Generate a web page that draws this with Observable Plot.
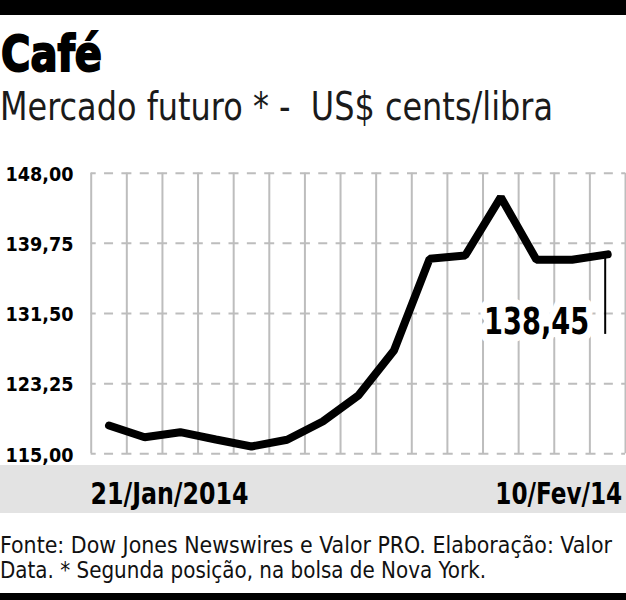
<!DOCTYPE html>
<html><head><meta charset="utf-8">
<script src="https://cdn.jsdelivr.net/npm/d3@7"></script>
<script src="https://cdn.jsdelivr.net/npm/@observablehq/plot@0.6"></script>
<style>
html,body{margin:0;padding:0;background:#fff;}
#root{position:relative;width:626px;height:600px;overflow:hidden;font-family:"Liberation Sans Narrow","DejaVu Sans Condensed","Roboto Condensed","Liberation Sans",sans-serif;color:#111;}
.bar{position:absolute;left:0;width:626px;background:#000;}
.fit{position:absolute;left:0;white-space:pre;transform-origin:0 0;line-height:1;display:inline-block;}
#chart{position:absolute;left:0;top:150px;}
</style></head><body><div id="root"><div class="bar" style="top:0;height:15px"></div><div class="bar" style="top:593px;height:7px"></div><div id="chart"></div></div>
<script>
// ---- data ----
const title = "Café";
const subtitle = "Mercado futuro * -  US$ cents/libra";
const footerLines = [
  "Fonte: Dow Jones Newswires e Valor PRO. Elaboração: Valor",
  "Data. * Segunda posição, na bolsa de Nova York."
];
const dates = ["2014-01-21","2014-01-22","2014-01-23","2014-01-24","2014-01-27","2014-01-28","2014-01-29","2014-01-30","2014-01-31","2014-02-03","2014-02-04","2014-02-05","2014-02-06","2014-02-07","2014-02-10"];
const values = [118.33,116.95,117.54,116.68,115.86,116.65,118.8,121.86,127.15,137.93,138.32,145.18,137.82,137.82,138.45];
const yTicks = [115,123.25,131.5,139.75,148];
const dateLabels = ["21/Jan/2014","10/Fev/14"];
const lastLabel = "138,45";

// ---- build ----
const root = document.getElementById("root");
function fitText(text, fs, top, target, weight, extra) {
  const d = document.createElement("div");
  d.className = "fit";
  d.textContent = text;
  d.style.fontSize = fs + "px";
  d.style.top = top + "px";
  d.style.fontWeight = weight || "normal";
  if (extra) Object.assign(d.style, extra);
  root.appendChild(d);
  const w = d.getBoundingClientRect().width;
  d.style.transform = `scaleX(${target / w})`;
  return d;
}
fitText(title, 49, 30.2, 101, "bold", {webkitTextStroke: "1.8px #000", color: "#000", left: "0.5px"});
fitText(subtitle, 39.5, 86.6, 553, "normal", {color: "#1a1a1a"});
fitText(footerLines[0], 23, 533.8, 612, "normal");
fitText(footerLines[1], 23, 558.8, 486, "normal");

const data = dates.map((d, i) => ({i, date: d, value: values[i]}));
const n = data.length;
const bounds = d3.range(n + 1).map(i => i - 0.5);
const labelData = [{i: n - 1, value: values[n - 1], label: lastLabel}];
const firstDate = [{i: 0, label: dateLabels[0]}];
const lastDate = [{i: n - 1, label: dateLabels[1]}];
const fmt = d => d.toFixed(2).replace(".", ",");
const gridColor = "#bdbdbd";
const font = '"Liberation Sans Narrow","DejaVu Sans Condensed","Roboto Condensed","Liberation Sans",sans-serif';

const plot = Plot.plot({
  width: 626, height: 365,
  marginLeft: 90.7, marginRight: 1, marginTop: 22.7, marginBottom: 61.7,
  x: {domain: [-0.5, n - 0.5], axis: null},
  y: {domain: [115, 148]},
  style: {
    background: "linear-gradient(to bottom, #fff 0px, #fff 315px, #e3e3e3 315px, #e3e3e3 363px, #fff 363px)",
    fontFamily: font, overflow: "visible", color: "#111"
  },
  marks: [
    Plot.ruleY(yTicks, {stroke: gridColor, strokeWidth: 2, strokeDasharray: "10,8.35,9,8.35", strokeDashoffset: 5}),
    Plot.ruleX(bounds, {y1: 115, y2: 148, stroke: gridColor, strokeWidth: 2}),
    Plot.axisY(yTicks, {tickSize: 0, tickPadding: 17.7, tickFormat: fmt, fontSize: 19.5, fontWeight: "bold", label: null, dy: 1.5, fill: "#000"}),
    Plot.line(data, {x: "i", y: "value", stroke: "#000", strokeWidth: 8, strokeLinecap: "round", strokeLinejoin: "miter"}),
    Plot.text(labelData, {x: "i", y: "value", text: "label", textAnchor: "end", lineAnchor: "bottom", dx: -18.6, dy: 80, fontSize: 37, fontWeight: "bold", stroke: "white", strokeWidth: 16, fill: "#000"}),
    Plot.ruleX(labelData, {x: "i", y1: "value", y2: "value", insetBottom: -80, dx: -2.5, stroke: "#000", strokeWidth: 2}),
    Plot.text(firstDate, {x: "i", text: "label", frameAnchor: "bottom", lineAnchor: "bottom", dy: 50, textAnchor: "start", dx: -18.5, fontSize: 30, fontWeight: "bold", fill: "#000"}),
    Plot.text(lastDate, {x: "i", text: "label", frameAnchor: "bottom", lineAnchor: "bottom", dy: 50, textAnchor: "end", dx: 14.5, fontSize: 30, fontWeight: "bold", fill: "#000"})
  ]
});
document.getElementById("chart").appendChild(plot);

// fit SVG text widths to the reference by a horizontal scale about each text's anchor
function squeeze(t, s) {
  const x = t.getAttribute("x");
  const base = t.getAttribute("transform") || "";
  const ax = x && !isNaN(+x) ? +x : 0;
  t.setAttribute("transform", `${base} translate(${ax},0) scale(${s},1) translate(${-ax},0)`);
}
const svg = d3.select(plot);
const tickTexts = svg.selectAll('g[aria-label="y-axis tick label"] text').nodes();
if (tickTexts.length) {
  const ref = tickTexts.find(t => t.textContent === "148,00") || tickTexts[0];
  const s = 68 / ref.getComputedTextLength();
  tickTexts.forEach(t => squeeze(t, s));
}
svg.selectAll('g[aria-label="text"] text').each(function() {
  const t = this.textContent;
  const target = t === dateLabels[0] ? 158 : t === dateLabels[1] ? 127 : t === lastLabel ? 105 : null;
  if (target) squeeze(this, target / this.getComputedTextLength());
});
</script></body></html>
